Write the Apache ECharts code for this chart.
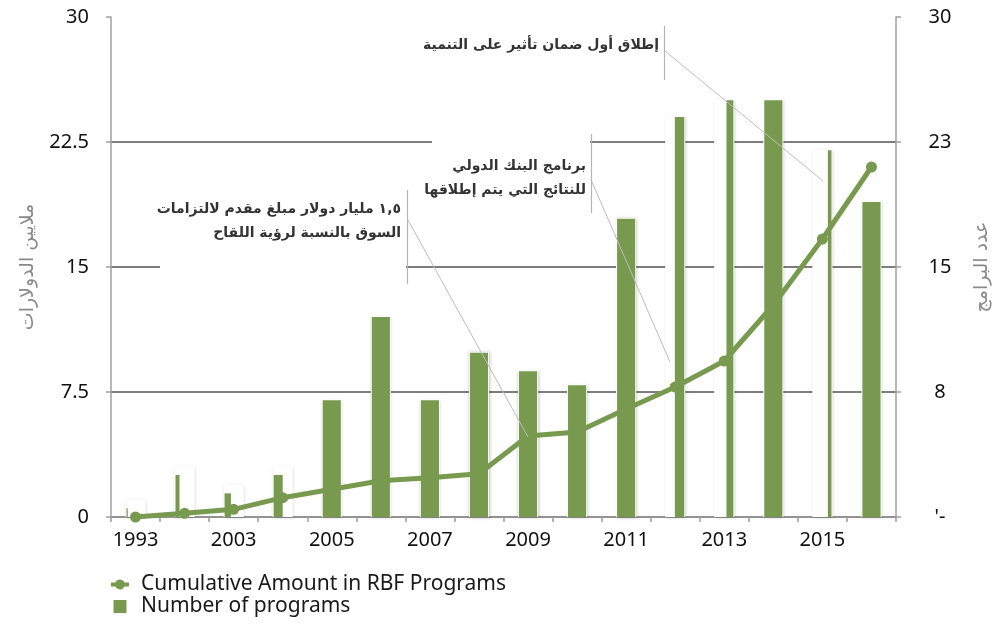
<!DOCTYPE html>
<html>
<head>
<meta charset="utf-8">
<script src="https://cdn.jsdelivr.net/npm/echarts@6/dist/echarts.min.js"></script>
<style>html,body{margin:0;padding:0;background:#fff}#c{width:1005px;height:624px}</style>
</head>
<body>
<div id="c"></div>
<script>
// ---- data ----
const years = ['1993','2002','2003','2004','2005','2006','2007','2008','2009','2010','2011','2012','2013','2014','2015','2016'];
const cumulativeAmount = [0, 0.22, 0.46, 1.16, 1.66, 2.18, 2.35, 2.6, 4.86, 5.1, 6.48, 7.8, 9.36, 12.72, 16.68, 21.0];
const numberOfPrograms = [1, 3, 1.9, 3, 7, 12, 7, 9.85, 8.75, 7.9, 17.9, 24, 25, 25, 22, 18.9];
const leftTicks = [0, 7.5, 15, 22.5, 30];
const seriesNames = ['Cumulative Amount in RBF Programs', 'Number of programs'];
const annotations = [
  ['١,٥ مليار دولار مبلغ مقدم لالتزامات', 'السوق بالنسبة لرؤية اللقاح'],
  ['برنامج البنك الدولي', 'للنتائج التي يتم إطلاقها'],
  ['إطلاق أول ضمان تأثير على التنمية']
];

// ---- style: visible part of each green bar [fromFrac, toFrac, topInsetPx] ----
const barSpan = [
  [0,0.07,8],[0,0.22,8],[0,0.35,8],[0,0.5,8],
  [0,1,0],[0,1,0],[0,1,0],[0,1,0],[0,1,0],[0,1,0],[0,1,0],
  [0.48,1,0],[0.62,1,0],[0,1,0],[0.8,1,0],[0,1,0]
];

const GREEN = '#789a4f';
const NUM_FONT = 'Noto Sans';
const AR_FONT = 'DejaVu Sans';

const chart = echarts.init(document.getElementById('c'), null, {renderer:'canvas'});

const lineIcon = 'path://M0,4.5 L4.42,4.5 A5,5 0 0,1 13.58,4.5 L18,4.5 L18,8.5 L13.58,8.5 A5,5 0 0,1 4.42,8.5 L0,8.5 Z';

const option = {
  animation: false,
  backgroundColor: '#fff',
  grid: {left: 111, right: 109, top: 17, bottom: 107, containLabel: false},
  legend: {
    orient: 'vertical', left: 106, top: 569, itemGap: 1,
    itemWidth: 18, itemHeight: 13,
    textStyle: {fontFamily: NUM_FONT, fontSize: 21, color: '#1a1a1a', padding: [0,0,0,7]},
    data: [
      {name: seriesNames[0], icon: lineIcon, itemStyle: {color: GREEN, borderWidth: 0}, lineStyle: {width: 0, opacity: 0}},
      {name: seriesNames[1], icon: 'path://M0,0h13v13h-13z', itemStyle: {color: GREEN}}
    ]
  },
  xAxis: {
    type: 'category', data: years, boundaryGap: true,
    axisLine: {lineStyle: {color: '#9a9a9a', width: 1.5}},
    axisTick: {show: true, interval: 0, length: 5, lineStyle: {color: '#9a9a9a', width: 1.5}},
    axisLabel: {interval: 1, fontFamily: NUM_FONT, fontSize: 20, color: '#111', margin: 13}
  },
  yAxis: [
    {
      type: 'value', min: 0, max: 30, interval: 7.5,
      name: 'ملايين الدولارات', nameLocation: 'middle', nameGap: 73, nameRotate: 90,
      nameTextStyle: {fontFamily: AR_FONT, fontSize: 19, color: '#8a8a8a'},
      axisLine: {show: true, lineStyle: {color: '#a0a0a0', width: 1.5}},
      axisTick: {show: true, length: 5, lineStyle: {color: '#a0a0a0', width: 1.5}},
      axisLabel: {fontFamily: NUM_FONT, fontSize: 20, color: '#111', margin: 22,
        formatter: v => leftTicks.includes(v) ? String(v) : ''},
      splitLine: {show: true, lineStyle: {color: ['#7d7d7d','#7d7d7d','#7d7d7d','#7d7d7d','rgba(0,0,0,0)'], width: 2}}
    },
    {
      type: 'value', min: 0, max: 30, interval: 7.5,
      name: 'عدد البرامج', nameLocation: 'middle', nameGap: 77, nameRotate: 90,
      nameTextStyle: {fontFamily: AR_FONT, fontSize: 19, color: '#8a8a8a'},
      axisLine: {show: true, lineStyle: {color: '#a0a0a0', width: 1.5}},
      axisTick: {show: true, length: 5, lineStyle: {color: '#a0a0a0', width: 1.5}},
      axisLabel: {fontFamily: NUM_FONT, fontSize: 20, color: '#111', margin: 44, align: 'center',
        formatter: v => v === 0 ? "'-" : String(Math.round(v))},
      splitLine: {show: false}
    }
  ],
  series: [
    {
      name: seriesNames[0], type: 'line', yAxisIndex: 0, z: 5,
      data: cumulativeAmount,
      symbol: 'circle', symbolSize: 11,
      lineStyle: {color: GREEN, width: 5},
      itemStyle: {color: GREEN}
    },
    {
      name: seriesNames[1], type: 'custom', yAxisIndex: 1, z: 3,
      itemStyle: {color: GREEN},
      encode: {x: 0, y: 1},
      data: numberOfPrograms.map((v, i) => [i, v]),
      renderItem: function (params, api) {
        const i = params.dataIndex;
        const base = api.coord([api.value(0), 0]);
        const top = api.coord([api.value(0), api.value(1)]);
        const bw = api.size([1, 0])[0] * 0.37;
        const x0 = base[0] - bw / 2;
        const sp = barSpan[i];
        return {
          type: 'group',
          children: [
            {type: 'rect', shape: {x: x0 - 1, y: top[1] - 1, width: bw + 2, height: base[1] - top[1] + 1},
             style: {fill: '#fff', shadowBlur: 3, shadowColor: 'rgba(0,0,0,0.25)', shadowOffsetX: 0.5, shadowOffsetY: 0.5}},
            {type: 'rect', shape: {x: x0 + sp[0] * bw, y: top[1] + sp[2], width: (sp[1] - sp[0]) * bw, height: base[1] - top[1] - sp[2]},
             style: {fill: GREEN}}
          ]
        };
      }
    }
  ]
};
chart.setOption(option);

// annotations (layout in pixels)
const txtStyle = {fill: '#333', font: 'bold 14px "' + AR_FONT + '"', align: 'right', verticalAlign: 'middle'};
const graphic = [
  // white boxes behind texts
  {type: 'rect', z: 2, shape: {x: 160, y: 190, width: 246, height: 96}, style: {fill: '#fff'}},
  {type: 'rect', z: 2, shape: {x: 432, y: 134, width: 158, height: 80}, style: {fill: '#fff'}},
  {type: 'rect', z: 2, shape: {x: 432, y: 26, width: 231, height: 55}, style: {fill: '#fff'}},
  // texts
  {type: 'text', z: 10, style: Object.assign({text: annotations[0][0], x: 401, y: 209}, txtStyle)},
  {type: 'text', z: 10, style: Object.assign({text: annotations[0][1], x: 401, y: 233}, txtStyle)},
  {type: 'text', z: 10, style: Object.assign({text: annotations[1][0], x: 586, y: 166}, txtStyle)},
  {type: 'text', z: 10, style: Object.assign({text: annotations[1][1], x: 586, y: 190}, txtStyle)},
  {type: 'text', z: 10, style: Object.assign({text: annotations[2][0], x: 659, y: 45}, txtStyle)},
  // vertical brackets
  {type: 'line', z: 10, shape: {x1: 407.5, y1: 190, x2: 407.5, y2: 284}, style: {stroke: '#b5b5b5', lineWidth: 1.2}},
  {type: 'line', z: 10, shape: {x1: 591.5, y1: 134, x2: 591.5, y2: 213}, style: {stroke: '#b5b5b5', lineWidth: 1.2}},
  {type: 'line', z: 10, shape: {x1: 664.5, y1: 26, x2: 664.5, y2: 80}, style: {stroke: '#b5b5b5', lineWidth: 1.2}},
  // leader lines
  {type: 'line', z: 10, shape: {x1: 408, y1: 220, x2: 528, y2: 437}, style: {stroke: '#bdbdbd', lineWidth: 1}},
  {type: 'line', z: 10, shape: {x1: 592, y1: 182, x2: 670, y2: 362}, style: {stroke: '#bdbdbd', lineWidth: 1}},
  {type: 'line', z: 10, shape: {x1: 665, y1: 51, x2: 823, y2: 181}, style: {stroke: '#bdbdbd', lineWidth: 1}}
];
chart.setOption({graphic: graphic});
</script>
</body>
</html>
